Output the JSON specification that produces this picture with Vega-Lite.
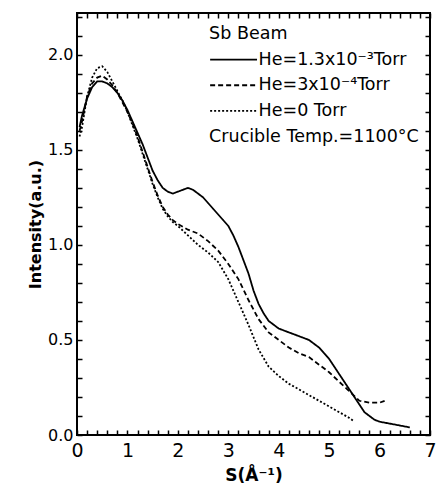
{
  "$schema": "https://vega.github.io/schema/vega-lite/v6.json",
  "width": 353,
  "height": 422,
  "autosize": {"type": "none"},
  "padding": {"left": 77, "top": 13, "right": 6, "bottom": 55},
  "background": "white",
  "config": {
    "view": {"stroke": "black", "strokeWidth": 2},
    "font": "DejaVu Sans",
    "axis": {"labelColor": "black", "titleColor": "black", "grid": false},
    "text": {"font": "DejaVu Sans", "fontSize": 17.5, "color": "black", "align": "left", "baseline": "middle"}
  },
  "datasets": {
    "curves": [
      {"s": 0.05, "i": 1.62, "series": "He=1.3x10⁻³Torr"},
      {"s": 0.1, "i": 1.68, "series": "He=1.3x10⁻³Torr"},
      {"s": 0.2, "i": 1.77, "series": "He=1.3x10⁻³Torr"},
      {"s": 0.3, "i": 1.83, "series": "He=1.3x10⁻³Torr"},
      {"s": 0.4, "i": 1.86, "series": "He=1.3x10⁻³Torr"},
      {"s": 0.5, "i": 1.86, "series": "He=1.3x10⁻³Torr"},
      {"s": 0.6, "i": 1.85, "series": "He=1.3x10⁻³Torr"},
      {"s": 0.7, "i": 1.83, "series": "He=1.3x10⁻³Torr"},
      {"s": 0.8, "i": 1.8, "series": "He=1.3x10⁻³Torr"},
      {"s": 0.9, "i": 1.76, "series": "He=1.3x10⁻³Torr"},
      {"s": 1.0, "i": 1.71, "series": "He=1.3x10⁻³Torr"},
      {"s": 1.1, "i": 1.65, "series": "He=1.3x10⁻³Torr"},
      {"s": 1.2, "i": 1.59, "series": "He=1.3x10⁻³Torr"},
      {"s": 1.3, "i": 1.53, "series": "He=1.3x10⁻³Torr"},
      {"s": 1.4, "i": 1.46, "series": "He=1.3x10⁻³Torr"},
      {"s": 1.5, "i": 1.39, "series": "He=1.3x10⁻³Torr"},
      {"s": 1.6, "i": 1.34, "series": "He=1.3x10⁻³Torr"},
      {"s": 1.7, "i": 1.3, "series": "He=1.3x10⁻³Torr"},
      {"s": 1.8, "i": 1.28, "series": "He=1.3x10⁻³Torr"},
      {"s": 1.9, "i": 1.27, "series": "He=1.3x10⁻³Torr"},
      {"s": 2.0, "i": 1.28, "series": "He=1.3x10⁻³Torr"},
      {"s": 2.1, "i": 1.29, "series": "He=1.3x10⁻³Torr"},
      {"s": 2.2, "i": 1.3, "series": "He=1.3x10⁻³Torr"},
      {"s": 2.3, "i": 1.29, "series": "He=1.3x10⁻³Torr"},
      {"s": 2.4, "i": 1.27, "series": "He=1.3x10⁻³Torr"},
      {"s": 2.5, "i": 1.25, "series": "He=1.3x10⁻³Torr"},
      {"s": 2.6, "i": 1.22, "series": "He=1.3x10⁻³Torr"},
      {"s": 2.7, "i": 1.19, "series": "He=1.3x10⁻³Torr"},
      {"s": 2.8, "i": 1.16, "series": "He=1.3x10⁻³Torr"},
      {"s": 2.9, "i": 1.13, "series": "He=1.3x10⁻³Torr"},
      {"s": 3.0, "i": 1.1, "series": "He=1.3x10⁻³Torr"},
      {"s": 3.1, "i": 1.05, "series": "He=1.3x10⁻³Torr"},
      {"s": 3.2, "i": 0.99, "series": "He=1.3x10⁻³Torr"},
      {"s": 3.3, "i": 0.92, "series": "He=1.3x10⁻³Torr"},
      {"s": 3.4, "i": 0.85, "series": "He=1.3x10⁻³Torr"},
      {"s": 3.5, "i": 0.76, "series": "He=1.3x10⁻³Torr"},
      {"s": 3.6, "i": 0.69, "series": "He=1.3x10⁻³Torr"},
      {"s": 3.7, "i": 0.64, "series": "He=1.3x10⁻³Torr"},
      {"s": 3.8, "i": 0.6, "series": "He=1.3x10⁻³Torr"},
      {"s": 3.9, "i": 0.58, "series": "He=1.3x10⁻³Torr"},
      {"s": 4.0, "i": 0.56, "series": "He=1.3x10⁻³Torr"},
      {"s": 4.2, "i": 0.54, "series": "He=1.3x10⁻³Torr"},
      {"s": 4.4, "i": 0.52, "series": "He=1.3x10⁻³Torr"},
      {"s": 4.6, "i": 0.5, "series": "He=1.3x10⁻³Torr"},
      {"s": 4.7, "i": 0.48, "series": "He=1.3x10⁻³Torr"},
      {"s": 4.8, "i": 0.46, "series": "He=1.3x10⁻³Torr"},
      {"s": 4.9, "i": 0.43, "series": "He=1.3x10⁻³Torr"},
      {"s": 5.0, "i": 0.4, "series": "He=1.3x10⁻³Torr"},
      {"s": 5.1, "i": 0.36, "series": "He=1.3x10⁻³Torr"},
      {"s": 5.2, "i": 0.32, "series": "He=1.3x10⁻³Torr"},
      {"s": 5.3, "i": 0.28, "series": "He=1.3x10⁻³Torr"},
      {"s": 5.4, "i": 0.24, "series": "He=1.3x10⁻³Torr"},
      {"s": 5.5, "i": 0.2, "series": "He=1.3x10⁻³Torr"},
      {"s": 5.6, "i": 0.16, "series": "He=1.3x10⁻³Torr"},
      {"s": 5.7, "i": 0.12, "series": "He=1.3x10⁻³Torr"},
      {"s": 5.8, "i": 0.1, "series": "He=1.3x10⁻³Torr"},
      {"s": 5.9, "i": 0.08, "series": "He=1.3x10⁻³Torr"},
      {"s": 6.0, "i": 0.07, "series": "He=1.3x10⁻³Torr"},
      {"s": 6.2, "i": 0.06, "series": "He=1.3x10⁻³Torr"},
      {"s": 6.4, "i": 0.05, "series": "He=1.3x10⁻³Torr"},
      {"s": 6.6, "i": 0.04, "series": "He=1.3x10⁻³Torr"},

      {"s": 0.05, "i": 1.6, "series": "He=3x10⁻⁴Torr"},
      {"s": 0.1, "i": 1.65, "series": "He=3x10⁻⁴Torr"},
      {"s": 0.2, "i": 1.78, "series": "He=3x10⁻⁴Torr"},
      {"s": 0.3, "i": 1.85, "series": "He=3x10⁻⁴Torr"},
      {"s": 0.4, "i": 1.88, "series": "He=3x10⁻⁴Torr"},
      {"s": 0.5, "i": 1.89, "series": "He=3x10⁻⁴Torr"},
      {"s": 0.6, "i": 1.87, "series": "He=3x10⁻⁴Torr"},
      {"s": 0.7, "i": 1.84, "series": "He=3x10⁻⁴Torr"},
      {"s": 0.8, "i": 1.8, "series": "He=3x10⁻⁴Torr"},
      {"s": 0.9, "i": 1.75, "series": "He=3x10⁻⁴Torr"},
      {"s": 1.0, "i": 1.7, "series": "He=3x10⁻⁴Torr"},
      {"s": 1.1, "i": 1.64, "series": "He=3x10⁻⁴Torr"},
      {"s": 1.2, "i": 1.57, "series": "He=3x10⁻⁴Torr"},
      {"s": 1.3, "i": 1.49, "series": "He=3x10⁻⁴Torr"},
      {"s": 1.4, "i": 1.41, "series": "He=3x10⁻⁴Torr"},
      {"s": 1.5, "i": 1.33, "series": "He=3x10⁻⁴Torr"},
      {"s": 1.6, "i": 1.26, "series": "He=3x10⁻⁴Torr"},
      {"s": 1.7, "i": 1.2, "series": "He=3x10⁻⁴Torr"},
      {"s": 1.8, "i": 1.16, "series": "He=3x10⁻⁴Torr"},
      {"s": 1.9, "i": 1.13, "series": "He=3x10⁻⁴Torr"},
      {"s": 2.0, "i": 1.11, "series": "He=3x10⁻⁴Torr"},
      {"s": 2.2, "i": 1.08, "series": "He=3x10⁻⁴Torr"},
      {"s": 2.4, "i": 1.06, "series": "He=3x10⁻⁴Torr"},
      {"s": 2.6, "i": 1.02, "series": "He=3x10⁻⁴Torr"},
      {"s": 2.8, "i": 0.97, "series": "He=3x10⁻⁴Torr"},
      {"s": 3.0, "i": 0.9, "series": "He=3x10⁻⁴Torr"},
      {"s": 3.2, "i": 0.82, "series": "He=3x10⁻⁴Torr"},
      {"s": 3.4, "i": 0.71, "series": "He=3x10⁻⁴Torr"},
      {"s": 3.6, "i": 0.61, "series": "He=3x10⁻⁴Torr"},
      {"s": 3.8, "i": 0.54, "series": "He=3x10⁻⁴Torr"},
      {"s": 4.0, "i": 0.5, "series": "He=3x10⁻⁴Torr"},
      {"s": 4.2, "i": 0.46, "series": "He=3x10⁻⁴Torr"},
      {"s": 4.4, "i": 0.43, "series": "He=3x10⁻⁴Torr"},
      {"s": 4.6, "i": 0.41, "series": "He=3x10⁻⁴Torr"},
      {"s": 4.8, "i": 0.37, "series": "He=3x10⁻⁴Torr"},
      {"s": 5.0, "i": 0.33, "series": "He=3x10⁻⁴Torr"},
      {"s": 5.2, "i": 0.28, "series": "He=3x10⁻⁴Torr"},
      {"s": 5.4, "i": 0.23, "series": "He=3x10⁻⁴Torr"},
      {"s": 5.6, "i": 0.18, "series": "He=3x10⁻⁴Torr"},
      {"s": 5.8, "i": 0.17, "series": "He=3x10⁻⁴Torr"},
      {"s": 6.0, "i": 0.17, "series": "He=3x10⁻⁴Torr"},
      {"s": 6.1, "i": 0.18, "series": "He=3x10⁻⁴Torr"},

      {"s": 0.05, "i": 1.57, "series": "He=0 Torr"},
      {"s": 0.1, "i": 1.62, "series": "He=0 Torr"},
      {"s": 0.2, "i": 1.78, "series": "He=0 Torr"},
      {"s": 0.3, "i": 1.88, "series": "He=0 Torr"},
      {"s": 0.4, "i": 1.93, "series": "He=0 Torr"},
      {"s": 0.5, "i": 1.94, "series": "He=0 Torr"},
      {"s": 0.6, "i": 1.91, "series": "He=0 Torr"},
      {"s": 0.7, "i": 1.86, "series": "He=0 Torr"},
      {"s": 0.8, "i": 1.81, "series": "He=0 Torr"},
      {"s": 0.9, "i": 1.76, "series": "He=0 Torr"},
      {"s": 1.0, "i": 1.7, "series": "He=0 Torr"},
      {"s": 1.1, "i": 1.63, "series": "He=0 Torr"},
      {"s": 1.2, "i": 1.56, "series": "He=0 Torr"},
      {"s": 1.3, "i": 1.48, "series": "He=0 Torr"},
      {"s": 1.4, "i": 1.4, "series": "He=0 Torr"},
      {"s": 1.5, "i": 1.32, "series": "He=0 Torr"},
      {"s": 1.6, "i": 1.25, "series": "He=0 Torr"},
      {"s": 1.7, "i": 1.19, "series": "He=0 Torr"},
      {"s": 1.8, "i": 1.15, "series": "He=0 Torr"},
      {"s": 1.9, "i": 1.12, "series": "He=0 Torr"},
      {"s": 2.0, "i": 1.1, "series": "He=0 Torr"},
      {"s": 2.2, "i": 1.05, "series": "He=0 Torr"},
      {"s": 2.4, "i": 1.0, "series": "He=0 Torr"},
      {"s": 2.6, "i": 0.96, "series": "He=0 Torr"},
      {"s": 2.8, "i": 0.91, "series": "He=0 Torr"},
      {"s": 3.0, "i": 0.82, "series": "He=0 Torr"},
      {"s": 3.2, "i": 0.7, "series": "He=0 Torr"},
      {"s": 3.4, "i": 0.58, "series": "He=0 Torr"},
      {"s": 3.6, "i": 0.45, "series": "He=0 Torr"},
      {"s": 3.8, "i": 0.36, "series": "He=0 Torr"},
      {"s": 4.0, "i": 0.31, "series": "He=0 Torr"},
      {"s": 4.2, "i": 0.27, "series": "He=0 Torr"},
      {"s": 4.4, "i": 0.24, "series": "He=0 Torr"},
      {"s": 4.6, "i": 0.21, "series": "He=0 Torr"},
      {"s": 4.8, "i": 0.18, "series": "He=0 Torr"},
      {"s": 5.0, "i": 0.15, "series": "He=0 Torr"},
      {"s": 5.2, "i": 0.12, "series": "He=0 Torr"},
      {"s": 5.4, "i": 0.09, "series": "He=0 Torr"},
      {"s": 5.5, "i": 0.07, "series": "He=0 Torr"}
    ],
    "one": [{"k": 1}]
  },
  "resolve": {"axis": {"x": "independent", "y": "independent"}},
  "layer": [
    {
      "data": {"name": "curves"},
      "mark": {"type": "line", "color": "black", "strokeWidth": 1.8},
      "encoding": {
        "x": {
          "field": "s", "type": "quantitative",
          "scale": {"domain": [0, 7], "nice": false, "zero": false},
          "axis": {
            "orient": "bottom",
            "domain": false, "tickSize": 5, "offset": -5, "tickWidth": 1.5, "tickColor": "black",
            "title": "S(Å⁻¹)",
            "titleFontSize": 17, "titleFontWeight": "bold", "titlePadding": 7,
            "values": [0,0.2,0.4,0.6,0.8,1,1.2,1.4,1.6,1.8,2,2.2,2.4,2.6,2.8,3,3.2,3.4,3.6,3.8,4,4.2,4.4,4.6,4.8,5,5.2,5.4,5.6,5.8,6,6.2,6.4,6.6,6.8,7],
            "labelExpr": "abs(datum.value - round(datum.value)) < 0.01 ? format(datum.value, 'd') : ''",
            "labelOverlap": false,
            "labelFlush": false,
            "labelFontSize": 19,
            "labelPadding": 6
          }
        },
        "y": {
          "field": "i", "type": "quantitative",
          "scale": {"domain": [0, 2.22], "nice": false, "zero": false},
          "axis": {
            "orient": "left",
            "domain": false, "tickSize": 5, "offset": -5, "tickWidth": 1.5, "tickColor": "black",
            "title": "Intensity(a.u.)",
            "titleFontSize": 16, "titleFontWeight": "bold", "titlePadding": 4,
            "values": [0,0.1,0.2,0.3,0.4,0.5,0.6,0.7,0.8,0.9,1,1.1,1.2,1.3,1.4,1.5,1.6,1.7,1.8,1.9,2,2.1,2.2],
            "labelExpr": "abs(datum.value*2 - round(datum.value*2)) < 0.01 ? format(datum.value, '.1f') : ''",
            "labelOverlap": false,
            "labelFlush": false,
            "labelFontSize": 16,
            "labelPadding": 4
          }
        },
        "strokeDash": {
          "field": "series", "type": "nominal",
          "scale": {"domain": ["He=1.3x10⁻³Torr", "He=3x10⁻⁴Torr", "He=0 Torr"], "range": [[1, 0], [5, 3], [2, 2]]},
          "legend": null
        }
      }
    },
    {
      "data": {"name": "one"},
      "mark": {"type": "text"},
      "encoding": {
        "x": {"datum": 2.62, "type": "quantitative", "axis": {"orient": "top", "domain": false, "tickSize": 5, "offset": -5, "tickWidth": 1.5, "tickColor": "black", "title": null, "labels": false, "values": [0,0.2,0.4,0.6,0.8,1,1.2,1.4,1.6,1.8,2,2.2,2.4,2.6,2.8,3,3.2,3.4,3.6,3.8,4,4.2,4.4,4.6,4.8,5,5.2,5.4,5.6,5.8,6,6.2,6.4,6.6,6.8,7]}},
        "y": {"datum": 2.11, "type": "quantitative", "axis": {"orient": "right", "domain": false, "tickSize": 5, "offset": -5, "tickWidth": 1.5, "tickColor": "black", "title": null, "labels": false, "values": [0,0.1,0.2,0.3,0.4,0.5,0.6,0.7,0.8,0.9,1,1.1,1.2,1.3,1.4,1.5,1.6,1.7,1.8,1.9,2,2.1,2.2]}},
        "text": {"value": "Sb Beam"}
      }
    },
    {
      "data": {"name": "one"},
      "mark": {"type": "rule", "color": "black", "strokeWidth": 1.8},
      "encoding": {"x": {"datum": 2.64, "axis": null}, "x2": {"datum": 3.57}, "y": {"datum": 1.975, "axis": null}}
    },
    {
      "data": {"name": "one"},
      "mark": {"type": "text"},
      "encoding": {"x": {"datum": 3.6, "axis": null}, "y": {"datum": 1.975, "axis": null}, "text": {"value": "He=1.3x10⁻³Torr"}}
    },
    {
      "data": {"name": "one"},
      "mark": {"type": "rule", "color": "black", "strokeWidth": 1.8, "strokeDash": [5, 3]},
      "encoding": {"x": {"datum": 2.64, "axis": null}, "x2": {"datum": 3.57}, "y": {"datum": 1.84, "axis": null}}
    },
    {
      "data": {"name": "one"},
      "mark": {"type": "text"},
      "encoding": {"x": {"datum": 3.6, "axis": null}, "y": {"datum": 1.84, "axis": null}, "text": {"value": "He=3x10⁻⁴Torr"}}
    },
    {
      "data": {"name": "one"},
      "mark": {"type": "rule", "color": "black", "strokeWidth": 1.8, "strokeDash": [2, 2]},
      "encoding": {"x": {"datum": 2.64, "axis": null}, "x2": {"datum": 3.57}, "y": {"datum": 1.705, "axis": null}}
    },
    {
      "data": {"name": "one"},
      "mark": {"type": "text"},
      "encoding": {"x": {"datum": 3.6, "axis": null}, "y": {"datum": 1.705, "axis": null}, "text": {"value": "He=0 Torr"}}
    },
    {
      "data": {"name": "one"},
      "mark": {"type": "text"},
      "encoding": {"x": {"datum": 2.62, "axis": null}, "y": {"datum": 1.57, "axis": null}, "text": {"value": "Crucible Temp.=1100°C"}}
    }
  ]
}
